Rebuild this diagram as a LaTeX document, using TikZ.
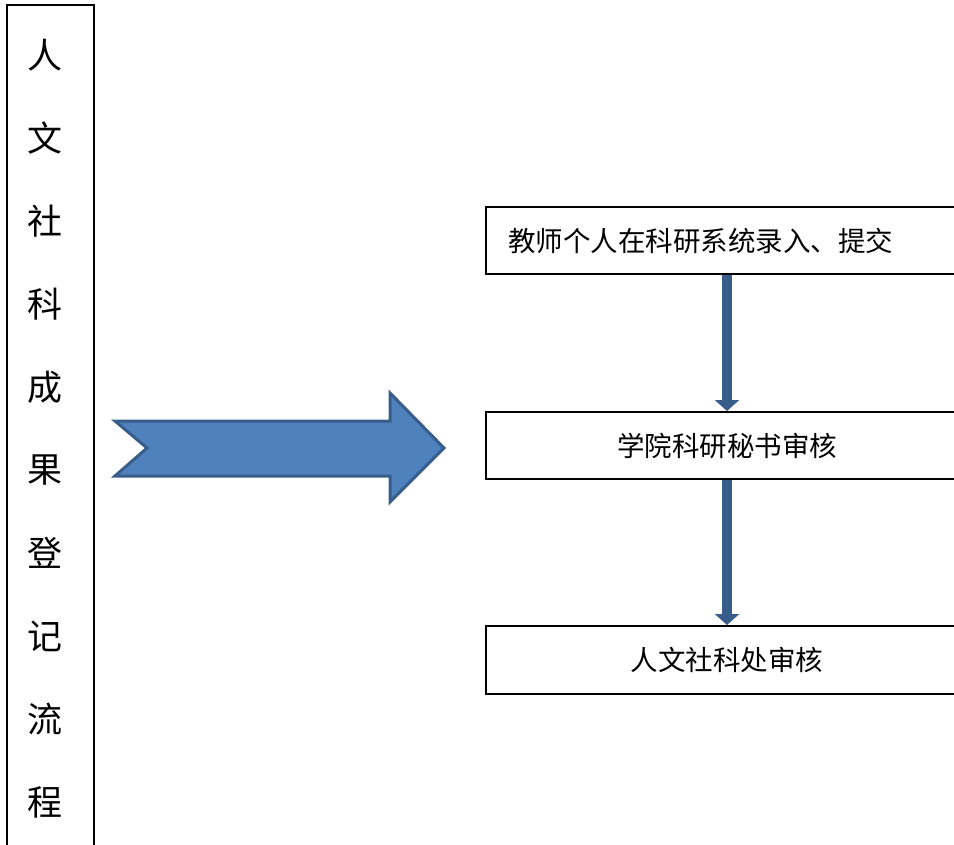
\documentclass[tikz,border=0pt]{standalone}
\usepackage{fontspec}
\newfontfamily\cjk{Noto Sans CJK SC}
\usetikzlibrary{arrows.meta}
\usetikzlibrary{calc}

\definecolor{blockfill}{HTML}{4F81BD}
\definecolor{blockline}{HTML}{385D8A}

\tikzset{
  stepbox/.style={draw=black, line width=2pt, minimum width=482pt, minimum height=67pt,
    inner sep=0pt, font=\cjk\fontsize{27.5}{30}\selectfont},
  titlebox/.style={draw=black, line width=2.5pt, minimum width=87pt, minimum height=920pt,
    inner sep=0pt},
  flow/.style={blockline, line width=10pt, -{Triangle[width=24pt,length=11pt]}},
}

\begin{document}
\begin{tikzpicture}[x=1pt, y=-1pt]
                \useasboundingbox (0,0) rectangle (954,845);
                % left title column
                \node[titlebox, anchor=north] (title) at (50.5,4) {};
                \foreach \ch [count=\i from 0] in {人,文,社,科,成,果,登,记,流,程}
                    \node[font=\cjk\fontsize{35}{40}\selectfont] (t\i) at (45,{55+83*\i}) {\ch};
                % big arrow
                \filldraw[fill=blockfill, draw=blockline, line width=3pt, line join=miter]
                    (115,421) -- (147,448) -- (115,476) -- (390,476) -- (390,502)
                    -- (444,448) -- (390,393) -- (390,421) -- cycle;
                % steps
                \node[stepbox, text width=438pt, inner xsep=22pt, align=left] (s1) at (727,240.5) {教师个人在科研系统录入、提交};
                \node[stepbox] (s2) at (727,445.5) {学院科研秘书审核};
                \node[stepbox, minimum height=68pt] (s3) at (727,660) {人文社科处审核};
                \draw[flow] (s1.south) -- (s2.north);
                \draw[flow] (s2.south) -- (s3.north);
            \end{tikzpicture}
\end{document}
